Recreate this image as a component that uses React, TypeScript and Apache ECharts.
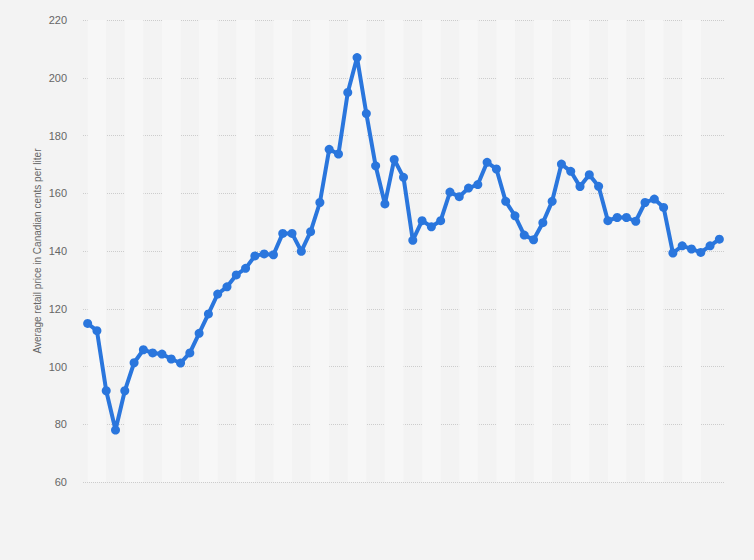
import React, { useEffect, useRef } from "react";
import * as echarts from "echarts";

const categories: string[] = Array.from({ length: 69 }, (_, i) => String(i + 1));

const prices: number[] = [
  114.9, 112.4, 91.6, 78.0, 91.6, 101.3, 105.8, 104.7, 104.3, 102.6,
  101.2, 104.7, 111.5, 118.2, 125.1, 127.6, 131.7, 134.0, 138.3, 139.0,
  138.7, 146.1, 146.1, 139.9, 146.7, 156.8, 175.2, 173.6, 194.9, 207.0,
  187.6, 169.5, 156.3, 171.7, 165.5, 143.7, 150.5, 148.4, 150.5, 160.4,
  158.8, 161.8, 163.0, 170.7, 168.4, 157.2, 152.2, 145.5, 143.9, 149.8,
  157.2, 170.1, 167.6, 162.3, 166.4, 162.4, 150.5, 151.6, 151.6, 150.3,
  156.8, 158.0, 155.1, 139.3, 141.8, 140.7, 139.5, 141.8, 144.1,
];

const yTicks: number[] = [60, 80, 100, 120, 140, 160, 180, 200, 220];
const yAxisTitle = "Average retail price in Canadian cents per liter";

export default function App() {
  const ref = useRef<HTMLDivElement>(null);

  useEffect(() => {
    if (!ref.current) return;
    const chart = echarts.init(ref.current, undefined, { renderer: "svg" });

    const bands: any[] = [];
    for (let i = 0; i + 2 < categories.length; i += 4) {
      bands.push([{ xAxis: categories[i] }, { xAxis: categories[i + 2] }]);
    }

    chart.setOption({
      animation: false,
      backgroundColor: "#f3f3f3",
      grid: { left: 83, right: 30, top: 20, bottom: 78 },
      xAxis: {
        type: "category",
        data: categories,
        boundaryGap: true,
        axisLine: { show: false },
        axisTick: { show: false },
        axisLabel: { show: false },
        splitLine: { show: false },
      },
      yAxis: {
        type: "value",
        min: yTicks[0],
        max: yTicks[yTicks.length - 1],
        interval: 20,
        name: yAxisTitle,
        nameLocation: "middle",
        nameGap: 41,
        nameMoveOverlap: false,
        nameTextStyle: { color: "#666", fontSize: 10, fontFamily: "Liberation Sans, Arial, sans-serif" },
        axisLine: { show: false },
        axisTick: { show: false },
        axisLabel: { color: "#666", fontSize: 11, margin: 16, fontFamily: "Liberation Sans, Arial, sans-serif" },
        splitLine: { show: true, lineStyle: { color: "#cccccc", type: "dotted", width: 1 } },
      },
      series: [
        {
          type: "line",
          data: prices,
          symbol: "circle",
          symbolSize: 9,
          showSymbol: true,
          showAllSymbol: true,
          lineStyle: { color: "#2a76dd", width: 4 },
          itemStyle: { color: "#2a76dd" },
          z: 3,
          markArea: {
            silent: true,
            itemStyle: { color: "#f7f7f7" },
            data: bands,
            z: 0,
          },
        },
      ],
    });

    return () => chart.dispose();
  }, []);

  return (
    <div
      ref={ref}
      style={{ position: "fixed", left: 0, top: 0, width: "754px", height: "560px" }}
    />
  );
}
